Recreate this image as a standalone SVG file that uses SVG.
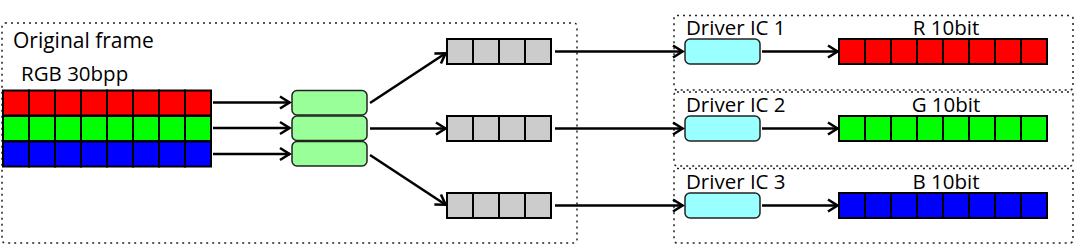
<svg xmlns="http://www.w3.org/2000/svg" width="1075" height="245" viewBox="0 0 1075 245">
<style>
.frame{fill:none;stroke:#222;stroke-width:1.5;stroke-dasharray:2 4}
.cell{stroke:#000;stroke-width:2}
.r{fill:#ff0000}.g{fill:#00ff00}.b{fill:#0000ff}.q{fill:#cccccc}
.mux{fill:#99ff99;stroke:#222;stroke-width:1.5}
.drv{fill:#99ffff;stroke:#222;stroke-width:1.5}
.lbl{font-family:"Open Sans","Liberation Sans",sans-serif;fill:#000}
.conn line{stroke:#000;stroke-width:2.6;marker-end:url(#arr)}
</style>
<defs>
<marker id="arr" markerUnits="userSpaceOnUse" markerWidth="16" markerHeight="16" refX="12.5" refY="8" orient="auto">
<path d="M2.5,2 L12,8 L2.5,14" fill="none" stroke="#000" stroke-width="2.6" stroke-linejoin="miter"/>
</marker>
<g id="row8">
<rect class="cell" x="0" y="0" width="26" height="25"/><rect class="cell" x="26" y="0" width="26" height="25"/><rect class="cell" x="52" y="0" width="26" height="25"/><rect class="cell" x="78" y="0" width="26" height="25"/><rect class="cell" x="104" y="0" width="26" height="25"/><rect class="cell" x="130" y="0" width="26" height="25"/><rect class="cell" x="156" y="0" width="26" height="25"/><rect class="cell" x="182" y="0" width="26" height="25"/>
</g>
<g id="row4">
<rect class="cell" x="0" y="0" width="26" height="25"/><rect class="cell" x="26" y="0" width="26" height="25"/><rect class="cell" x="52" y="0" width="26" height="25"/><rect class="cell" x="78" y="0" width="26" height="25"/>
</g>
</defs>
<rect width="1075" height="245" fill="#fff"/>

<g id="original-frame">
<rect class="frame" x="2" y="23" width="575" height="220" rx="3"/>
<text class="lbl" x="13" y="48" font-size="21">Original frame</text>
<text class="lbl" x="21" y="81" font-size="20.5">RGB 30bpp</text>
<use href="#row8" class="r" x="3" y="90.5"/>
<use href="#row8" class="g" x="3" y="116"/>
<use href="#row8" class="b" x="3" y="141.5"/>
</g>

<g id="mux">
<rect class="mux" x="292" y="90.5" width="75" height="24.5" rx="5"/>
<rect class="mux" x="292" y="116" width="75" height="24.5" rx="5"/>
<rect class="mux" x="292" y="141.5" width="75" height="24.5" rx="5"/>
</g>

<g id="queue1"><use href="#row4" class="q" x="447" y="39"/></g>
<g id="queue2"><use href="#row4" class="q" x="447" y="116"/></g>
<g id="queue3"><use href="#row4" class="q" x="447" y="193"/></g>

<g id="driver1">
<rect class="frame" x="674" y="15.5" width="399" height="74.5" rx="3"/>
<text class="lbl" x="686" y="35" font-size="20.5">Driver IC 1</text>
<rect class="drv" x="685" y="39" width="75" height="25" rx="5"/>
<text class="lbl" x="946" y="35" font-size="20.5" text-anchor="middle">R 10bit</text>
<use href="#row8" class="r" x="839" y="39"/>
</g>
<g id="driver2">
<rect class="frame" x="674" y="92" width="399" height="74" rx="3"/>
<text class="lbl" x="686" y="112" font-size="20.5">Driver IC 2</text>
<rect class="drv" x="685" y="116" width="75" height="25" rx="5"/>
<text class="lbl" x="946" y="112" font-size="20.5" text-anchor="middle">G 10bit</text>
<use href="#row8" class="g" x="839" y="116"/>
</g>
<g id="driver3">
<rect class="frame" x="674" y="168.5" width="399" height="74.5" rx="3"/>
<text class="lbl" x="686" y="189" font-size="20.5">Driver IC 3</text>
<rect class="drv" x="685" y="193" width="75" height="25" rx="5"/>
<text class="lbl" x="946" y="189" font-size="20.5" text-anchor="middle">B 10bit</text>
<use href="#row8" class="b" x="839" y="193"/>
</g>

<g id="connectors" class="conn">
<line x1="213" y1="102.5" x2="290" y2="102.5"/>
<line x1="213" y1="128" x2="290" y2="128"/>
<line x1="213" y1="154" x2="290" y2="154"/>
<line x1="370" y1="103" x2="446" y2="53"/>
<line x1="370" y1="128.5" x2="446" y2="128.5"/>
<line x1="370" y1="155" x2="446" y2="205"/>
<line x1="555" y1="51.5" x2="683" y2="51.5"/>
<line x1="555" y1="128.5" x2="683" y2="128.5"/>
<line x1="555" y1="205.5" x2="683" y2="205.5"/>
<line x1="762" y1="51.5" x2="838" y2="51.5"/>
<line x1="762" y1="128.5" x2="838" y2="128.5"/>
<line x1="762" y1="205.5" x2="838" y2="205.5"/>
</g>
</svg>
